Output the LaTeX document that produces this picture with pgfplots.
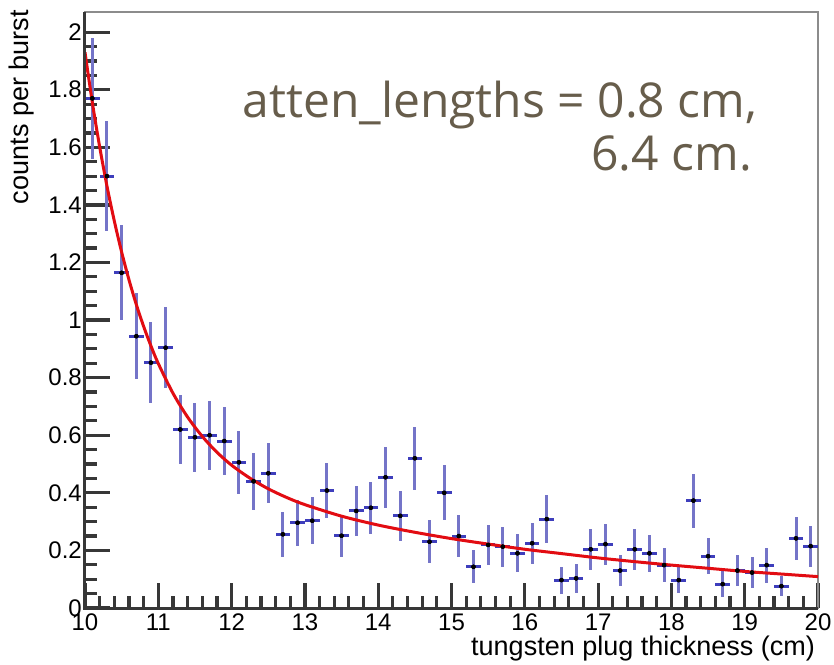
\documentclass[border=0pt]{standalone}
\usepackage{fontspec}
\setmainfont{Liberation Sans}
\newfontfamily\opensans{Open Sans}
\usepackage{pgfplots}
\usepackage{pgfplotstable}
\pgfplotsset{compat=1.18}
\definecolor{barblue}{RGB}{116,116,200}
\definecolor{crossblue}{RGB}{62,62,188}
\definecolor{fitred}{RGB}{226,12,18}
\definecolor{txtbrown}{RGB}{103,93,75}
\definecolor{framegray}{RGB}{140,140,140}
\definecolor{axdark}{RGB}{55,55,55}

\pgfplotstableread{
x y e
10.1 1.770 0.210
10.3 1.500 0.190
10.5 1.164 0.165
10.7 0.944 0.150
10.9 0.852 0.140
11.1 0.904 0.140
11.3 0.620 0.120
11.5 0.593 0.120
11.7 0.600 0.120
11.9 0.580 0.117
12.1 0.506 0.110
12.3 0.440 0.100
12.5 0.468 0.105
12.7 0.256 0.078
12.9 0.296 0.080
13.1 0.303 0.081
13.3 0.408 0.097
13.5 0.251 0.073
13.7 0.337 0.087
13.9 0.348 0.091
14.1 0.454 0.105
14.3 0.320 0.087
14.5 0.520 0.110
14.7 0.230 0.074
14.9 0.400 0.095
15.1 0.250 0.074
15.3 0.143 0.057
15.5 0.219 0.071
15.7 0.213 0.070
15.9 0.190 0.066
16.1 0.225 0.071
16.3 0.309 0.083
16.5 0.097 0.047
16.7 0.103 0.051
16.9 0.204 0.071
17.1 0.222 0.071
17.3 0.130 0.053
17.5 0.204 0.071
17.7 0.190 0.065
17.9 0.149 0.060
18.1 0.097 0.046
18.3 0.373 0.094
18.5 0.180 0.063
18.7 0.083 0.046
18.9 0.130 0.055
19.1 0.123 0.054
19.3 0.149 0.061
19.5 0.076 0.035
19.7 0.242 0.074
19.9 0.215 0.071
}\data

\pgfplotstableread{
x f
10.0 1.930
10.1 1.756
10.2 1.602
10.3 1.465
10.4 1.344
10.5 1.236
10.6 1.140
10.7 1.054
10.8 0.978
10.9 0.910
11.0 0.849
11.2 0.746
11.4 0.663
11.6 0.596
11.8 0.541
12.0 0.496
12.25 0.451
12.5 0.414
12.75 0.384
13.0 0.359
13.5 0.319
14.0 0.288
14.5 0.263
15.0 0.241
15.5 0.222
16.0 0.204
16.5 0.189
17.0 0.174
17.5 0.161
18.0 0.149
18.5 0.138
19.0 0.127
19.5 0.118
20.0 0.109
}\fit

\begin{document}
\begin{tikzpicture}
\begin{axis}[name=ax, scale only axis, width=733pt, height=596pt,
  xmin=10, xmax=20, ymin=0, ymax=2.07, clip=false,
  xtick={10,11,12,13,14,15,16,17,18,19,20},
  ytick={0,0.2,0.4,0.6,0.8,1,1.2,1.4,1.6,1.8,2},
  yticklabels={0,0.2,0.4,0.6,0.8,1,1.2,1.4,1.6,1.8,2},
  minor x tick num=4, minor y tick num=3,
  tick align=inside, xtick pos=bottom, ytick pos=left,
  major tick length=25pt, minor tick length=12pt,
  major tick style={line width=3.2pt, color=axdark},
  minor tick style={line width=3.2pt, color=axdark},
  axis line style={line width=2.5pt, color=framegray},
  ticklabel style={font=\fontsize{24}{26}\selectfont},
  yticklabel style={inner xsep=3pt},
  xticklabel style={inner ysep=6pt},
  /pgf/number format/assume math mode=true,
  xlabel={tungsten plug thickness (cm)}, ylabel={counts per burst},
  label style={font=\fontsize{27}{30}\selectfont},
  xlabel style={at={(axis description cs:0.996,-0.079)}, anchor=base east, inner sep=0pt},
  ylabel style={at={(axis description cs:-0.086,1.003)}, anchor=east, inner sep=0pt},
]
\addplot[only marks, mark=none, error bars/.cd, y dir=both, y explicit, error mark=none,
  error bar style={line width=3pt, color=barblue}] table[x=x, y=y, y error=e]{\data};
\addplot[only marks, mark=none, error bars/.cd, x dir=both, x fixed=0.1, error mark=none,
  error bar style={line width=3pt, color=crossblue}] table[x=x, y=y]{\data};
\addplot[fitred, line width=3pt, smooth] table[x=x, y=f]{\fit};
\draw[axdark, line width=3pt] (rel axis cs:0,1) -- (rel axis cs:0,0) -- (rel axis cs:1,0);
\node[anchor=base east, inner sep=0pt, text=txtbrown, font=\opensans\fontsize{48}{50}\selectfont] at (axis cs:19.17,1.705) {atten\_lengths = 0.8 cm,};
\node[anchor=base east, inner sep=0pt, text=txtbrown, font=\opensans\fontsize{48}{50}\selectfont] at (axis cs:19.10,1.521) {6.4 cm.};
\end{axis}
\pgfresetboundingbox
\path ([xshift=-85pt,yshift=-56pt]ax.south west) rectangle ([xshift=16pt,yshift=12pt]ax.north east);
\end{tikzpicture}
\end{document}
